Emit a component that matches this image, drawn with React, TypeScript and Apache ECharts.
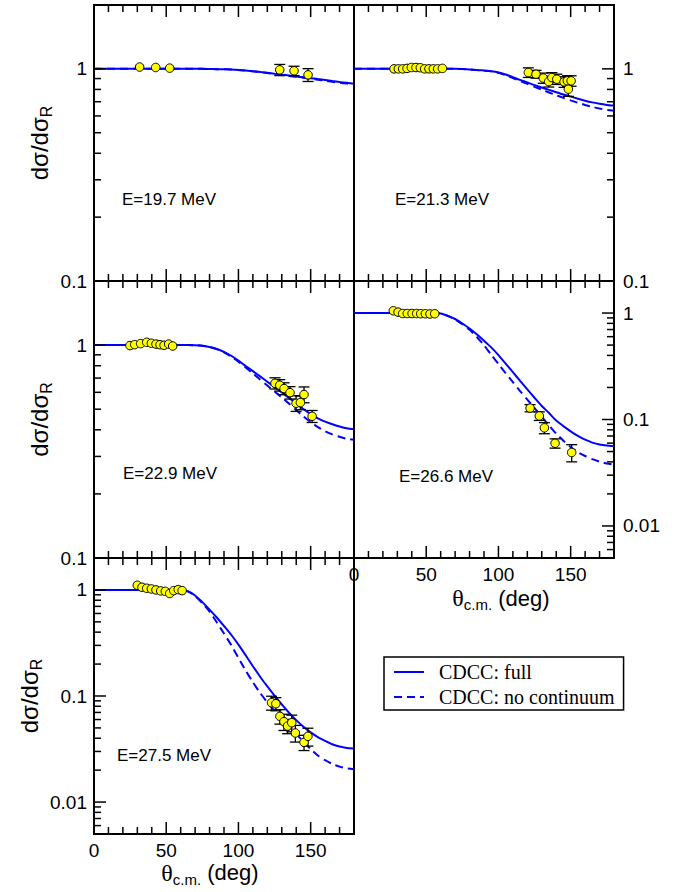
import React, { useEffect, useRef } from 'react';
import * as echarts from 'echarts';

// ---------------- DATA ----------------
const ANGLES = [0, 5, 10, 15, 20, 25, 30, 35, 40, 45, 50, 55, 60, 65, 70, 75, 80, 85, 90,
  95, 100, 105, 110, 115, 120, 125, 130, 135, 140, 145, 150, 155, 160, 165, 170, 175, 180];

const ENERGY_LABELS = ['E=19.7 MeV', 'E=21.3 MeV', 'E=22.9 MeV', 'E=26.6 MeV', 'E=27.5 MeV'];
const SERIES_NAMES = ['CDCC: full', 'CDCC: no continuum'];

// E = 19.7 MeV
const FULL_197 = [1, 1, 1, 1, 1, 1, 1, 1, 1, 1, 1, 1, 1, 1, 1, 1, 0.998, 0.997, 0.995,
  0.993, 0.989, 0.983, 0.975, 0.967, 0.958, 0.948, 0.939, 0.93, 0.921, 0.912, 0.904, 0.895, 0.886, 0.876, 0.867, 0.859, 0.851];
const NOCONT_197 = [1, 1, 1, 1, 1, 1, 1, 1, 1, 1, 1, 1, 1, 1, 1, 1, 0.998, 0.997, 0.995,
  0.993, 0.989, 0.982, 0.974, 0.965, 0.956, 0.946, 0.936, 0.926, 0.917, 0.908, 0.899, 0.889, 0.879, 0.869, 0.86, 0.852, 0.845];
const EXP_ANG_197 = [31.6, 42.7, 52.4, 128.6, 138.5, 148.2];
const EXP_VAL_197 = [1.02, 1.015, 1.008, 0.989, 0.979, 0.937];
const EXP_ERR_197 = [0, 0, 0, 0.06, 0.05, 0.065];

// E = 21.3 MeV
const FULL_213 = [1, 1, 1, 1, 1, 1, 1, 1, 1, 1, 1, 1, 1, 1, 1, 0.998, 0.993, 0.989, 0.982,
  0.975, 0.962, 0.94, 0.914, 0.887, 0.863, 0.838, 0.817, 0.796, 0.776, 0.757, 0.74, 0.723, 0.708, 0.695, 0.684, 0.676, 0.671];
const NOCONT_213 = [1, 1, 1, 1, 1, 1, 1, 1, 1, 1, 1, 1, 1, 1, 1, 0.998, 0.993, 0.988, 0.981,
  0.973, 0.958, 0.934, 0.905, 0.876, 0.85, 0.823, 0.798, 0.774, 0.751, 0.73, 0.71, 0.692, 0.676, 0.662, 0.65, 0.64, 0.634];
const EXP_ANG_213 = [27.7, 30.7, 33.7, 36.7, 39.7, 42.9, 45.9, 48.9, 51.9, 54.9, 57.9, 61.2,
  120.7, 126, 131, 134.8, 137, 140.4, 145.4, 147.7, 148.4, 150.3];
const EXP_VAL_213 = [1, 1, 1, 1.005, 1.015, 1.015, 1.012, 1, 1, 1, 1, 1.005,
  0.961, 0.944, 0.905, 0.871, 0.91, 0.894, 0.868, 0.878, 0.802, 0.878];
const EXP_ERR_213 = [0, 0, 0, 0, 0, 0, 0, 0, 0, 0, 0, 0,
  0.05, 0.04, 0.05, 0.05, 0.05, 0.05, 0.05, 0.05, 0.06, 0.05];

// E = 22.9 MeV
const FULL_229 = [1, 1, 1, 1, 1, 1, 1, 1, 1, 1, 1, 1, 1, 1, 0.999, 0.993, 0.979, 0.959, 0.929,
  0.891, 0.845, 0.798, 0.755, 0.713, 0.673, 0.635, 0.6, 0.565, 0.532, 0.501, 0.474, 0.453, 0.437, 0.425, 0.415, 0.407, 0.403];
const NOCONT_229 = [1, 1, 1, 1, 1, 1, 1, 1, 1, 1, 1, 1, 1, 1, 0.999, 0.993, 0.979, 0.957, 0.925,
  0.883, 0.836, 0.785, 0.736, 0.689, 0.646, 0.605, 0.568, 0.531, 0.495, 0.462, 0.435, 0.412, 0.394, 0.381, 0.371, 0.363, 0.359];
const EXP_ANG_229 = [24.9, 28.2, 32.3, 36.5, 39.7, 42.9, 45.7, 48.5, 51.7, 54.5,
  125.3, 128.6, 131.6, 135.7, 139.9, 142.9, 145.4, 151];
const EXP_VAL_229 = [0.995, 1.005, 1.016, 1.031, 1.02, 1.011, 1.004, 0.998, 1.011, 0.99,
  0.662, 0.648, 0.625, 0.598, 0.533, 0.537, 0.586, 0.463];
const EXP_ERR_229 = [0, 0, 0, 0, 0, 0, 0, 0, 0, 0,
  0.04, 0.04, 0.04, 0.04, 0.045, 0.04, 0.05, 0.03];

// E = 26.6 MeV
const FULL_266 = [1, 1, 1, 1, 1, 1, 1, 1, 1, 1, 1, 1, 0.991, 0.94, 0.879, 0.798, 0.716, 0.631, 0.55,
  0.476, 0.403, 0.335, 0.278, 0.231, 0.192, 0.16, 0.134, 0.115, 0.0977, 0.0867, 0.0774, 0.07, 0.0646, 0.0607, 0.0582, 0.0569, 0.0562];
const NOCONT_266 = [1, 1, 1, 1, 1, 1, 1, 1, 1, 1, 1, 1, 0.991, 0.938, 0.871, 0.785, 0.695, 0.596, 0.499,
  0.406, 0.333, 0.272, 0.224, 0.185, 0.154, 0.128, 0.106, 0.0881, 0.0736, 0.0631, 0.055, 0.0494, 0.0454, 0.0424, 0.0402, 0.0386, 0.0376];
const EXP_ANG_266 = [27.2, 30.5, 33.7, 36.9, 40.2, 43.4, 46.2, 49.4, 52.6, 55.9,
  121.9, 128.3, 131.8, 139.2, 150.7];
const EXP_VAL_266 = [1.05, 1.02, 0.99, 0.99, 0.99, 0.99, 0.985, 0.985, 0.98, 0.985,
  0.128, 0.108, 0.0835, 0.0598, 0.049];
const EXP_ERR_266 = [0, 0, 0, 0, 0, 0, 0, 0, 0, 0,
  0.01, 0.01, 0.01, 0.006, 0.009];

// E = 27.5 MeV
const FULL_275 = [1, 1, 1, 1, 1, 1, 1, 1, 1, 1, 1, 1, 0.998, 0.973, 0.887, 0.767, 0.653, 0.55, 0.457,
  0.378, 0.305, 0.242, 0.191, 0.152, 0.123, 0.1007, 0.0832, 0.0695, 0.0592, 0.0513, 0.0454, 0.041, 0.0378, 0.0351, 0.0334, 0.0324, 0.032];
const NOCONT_275 = [1, 1, 1, 1, 1, 1, 1, 1, 1, 1, 1, 1, 0.998, 0.97, 0.875, 0.75, 0.624, 0.495, 0.389,
  0.302, 0.229, 0.174, 0.135, 0.107, 0.0871, 0.0724, 0.061, 0.0515, 0.0437, 0.0372, 0.0316, 0.0275, 0.0248, 0.0229, 0.0216, 0.0208, 0.0204];
const EXP_ANG_275 = [30, 33.2, 36.5, 39.7, 42.9, 46.2, 49.4, 52.4, 55.2, 58.3, 61,
  122.9, 125.9, 128.7, 131.5, 134, 136.9, 139.4, 145.4, 148.1];
const EXP_VAL_275 = [1.107, 1.06, 1.037, 1.022, 1, 0.979, 0.97, 0.925, 0.985, 1.007, 0.985,
  0.0865, 0.0845, 0.0643, 0.0573, 0.0521, 0.056, 0.0448, 0.0366, 0.0417];
const EXP_ERR_275 = [0, 0, 0, 0, 0, 0, 0, 0, 0, 0, 0,
  0.013, 0.012, 0.01, 0.01, 0.008, 0.01, 0.008, 0.006, 0.008];

// axis ticks / ranges
const X_RANGE = [0, 180];
const X_LABEL_VALUES = [0, 50, 100, 150];
const X_MAJOR_TICKS = [50, 100, 150];
const X_MINOR_TICKS = [10, 20, 30, 40, 60, 70, 80, 90, 110, 120, 130, 140, 160, 170];
const Y_DECADES = [0.001, 0.01, 0.1, 1, 10];
const Y_MINOR_FACTORS = [2, 3, 4, 5, 6, 7, 8, 9];
const Y_RANGE_NARROW = [0.1, 2];
const Y_RANGE_WIDE = [0.005, 2];

// ---------------- LAYOUT ----------------
const W = 684;
const H = 892;
const GRID_W = 260;
const SANS = 'Liberation Sans';
const SERIF = 'Liberation Serif';
const BLUE = '#0000ff';

const PANELS = [
  { full: FULL_197, noCont: NOCONT_197, ang: EXP_ANG_197, val: EXP_VAL_197, err: EXP_ERR_197, label: ENERGY_LABELS[0],
    left: 94, top: 5, height: 276, yr: Y_RANGE_NARROW, side: 'left', xLab: false, yName: true, nameGap: 40, lx: 28, ly: 194, xPad: 0, xGap: 27 },
  { full: FULL_213, noCont: NOCONT_213, ang: EXP_ANG_213, val: EXP_VAL_213, err: EXP_ERR_213, label: ENERGY_LABELS[1],
    left: 354, top: 5, height: 276, yr: Y_RANGE_NARROW, side: 'right', xLab: false, yName: false, nameGap: 0, lx: 41, ly: 194, xPad: 0, xGap: 27 },
  { full: FULL_229, noCont: NOCONT_229, ang: EXP_ANG_229, val: EXP_VAL_229, err: EXP_ERR_229, label: ENERGY_LABELS[2],
    left: 94, top: 281, height: 277, yr: Y_RANGE_NARROW, side: 'left', xLab: false, yName: true, nameGap: 40, lx: 29, ly: 192, xPad: 0, xGap: 27 },
  { full: FULL_266, noCont: NOCONT_266, ang: EXP_ANG_266, val: EXP_VAL_266, err: EXP_ERR_266, label: ENERGY_LABELS[3],
    left: 354, top: 281, height: 277, yr: Y_RANGE_WIDE, side: 'right', xLab: true, yName: false, nameGap: 0, lx: 45, ly: 195, xPad: [0, 0, 0, 34], xGap: 26 },
  { full: FULL_275, noCont: NOCONT_275, ang: EXP_ANG_275, val: EXP_VAL_275, err: EXP_ERR_275, label: ENERGY_LABELS[4],
    left: 94, top: 558, height: 276, yr: Y_RANGE_WIDE, side: 'left', xLab: true, yName: true, nameGap: 50, lx: 23, ly: 197, xPad: [0, 28, 0, 0], xGap: 23 },
];

const decadeLabel = (v: number) => {
  const l = Math.log10(v);
  const r = Math.round(l);
  if (Math.abs(l - r) > 1e-6) return '';
  return r >= 0 ? String(Math.pow(10, r)) : Math.pow(10, r).toFixed(-r);
};

const TICK_STYLE = { stroke: '#000', lineWidth: 1.5 };

function xTickSeries(i: number, values: number[], yr: number[], len: number) {
  return {
    type: 'custom', xAxisIndex: i, yAxisIndex: i, z: 6, silent: true,
    data: values.map((v) => [v, yr[0], yr[1]]),
    encode: { x: 0, y: [1, 2] },
    renderItem: (_params: any, api: any) => {
      const x = api.value(0);
      const b = api.coord([x, api.value(1)]);
      const t = api.coord([x, api.value(2)]);
      return {
        type: 'group',
        children: [
          { type: 'line', shape: { x1: b[0], y1: b[1], x2: b[0], y2: b[1] - len }, style: TICK_STYLE },
          { type: 'line', shape: { x1: t[0], y1: t[1], x2: t[0], y2: t[1] + len }, style: TICK_STYLE },
        ],
      };
    },
  };
}

function yTickSeries(i: number, values: number[], side: string, len: number) {
  const edge = side === 'left' ? X_RANGE[0] : X_RANGE[1];
  const dir = side === 'left' ? 1 : -1;
  return {
    type: 'custom', xAxisIndex: i, yAxisIndex: i, z: 6, silent: true,
    data: values.map((v) => [edge, v, v]),
    encode: { x: 0, y: [1, 2] },
    renderItem: (_params: any, api: any) => {
      const p = api.coord([api.value(0), api.value(1)]);
      return { type: 'line', shape: { x1: p[0], y1: p[1], x2: p[0] + dir * len, y2: p[1] }, style: TICK_STYLE };
    },
  };
}

function buildOption() {
  const grid: any[] = [];
  const xAxis: any[] = [];
  const yAxis: any[] = [];
  const series: any[] = [];
  const graphic: any[] = [];

  PANELS.forEach((p, i) => {
    grid.push({
      left: p.left, top: p.top, width: GRID_W, height: p.height,
      show: true, borderColor: '#000', borderWidth: 2, backgroundColor: 'transparent',
      containLabel: false, outerBoundsMode: 'none',
    });
    xAxis.push({
      gridIndex: i, type: 'value', min: X_RANGE[0], max: X_RANGE[1], interval: 50,
      axisLine: { show: false }, axisTick: { show: false }, splitLine: { show: false },
      axisLabel: {
        show: p.xLab, margin: 7, fontSize: 19, fontFamily: SANS, color: '#000',
        formatter: (v: number) => (X_LABEL_VALUES.indexOf(v) >= 0 ? String(v) : ''),
      },
      name: p.xLab ? '{t|θ}{s|c.m.}{u| (deg)}' : '',
      nameLocation: 'middle', nameGap: p.xGap,
      nameTextStyle: {
        padding: p.xPad,
        rich: {
          t: { fontFamily: SERIF, fontSize: 24, color: '#000' },
          s: { fontFamily: SANS, fontSize: 15, color: '#000', padding: [13, 0, 0, 0] },
          u: { fontFamily: SANS, fontSize: 22, color: '#000' },
        },
      },
    });
    yAxis.push({
      gridIndex: i, type: 'log', logBase: 10, min: p.yr[0], max: p.yr[1], position: p.side,
      axisLine: { show: false }, axisTick: { show: false }, splitLine: { show: false },
      axisLabel: { margin: p.side === 'left' ? 7 : 9, fontSize: 19, fontFamily: SANS, color: '#000', formatter: decadeLabel },
      name: p.yName ? '{a|dσ/dσ}{b|R}' : '',
      nameLocation: 'middle', nameGap: p.nameGap,
      nameTextStyle: {
        rich: {
          a: { fontFamily: SANS, fontSize: 24, color: '#000' },
          b: { fontFamily: SANS, fontSize: 16, color: '#000', padding: [13, 0, 0, 0] },
        },
      },
    });

    series.push({
      name: SERIES_NAMES[0], type: 'line', xAxisIndex: i, yAxisIndex: i,
      data: ANGLES.map((a, k) => [a, p.full[k]]),
      symbol: 'none', smooth: 0.25, z: 2, silent: true,
      lineStyle: { color: BLUE, width: 2, type: 'solid' }, itemStyle: { color: BLUE },
    });
    series.push({
      name: SERIES_NAMES[1], type: 'line', xAxisIndex: i, yAxisIndex: i,
      data: ANGLES.map((a, k) => [a, p.noCont[k]]),
      symbol: 'none', smooth: 0.25, z: 2, silent: true,
      lineStyle: { color: BLUE, width: 2, type: [8, 5] }, itemStyle: { color: BLUE },
    });

    const errData = p.ang
      .map((a, k) => [a, p.val[k] - p.err[k], p.val[k] + p.err[k], p.err[k]])
      .filter((d) => d[3] > 0);
    series.push({
      type: 'custom', xAxisIndex: i, yAxisIndex: i, data: errData, z: 3, silent: true,
      encode: { x: 0, y: [1, 2] },
      renderItem: (_params: any, api: any) => {
        const x = api.value(0);
        const top = api.coord([x, api.value(2)]);
        const bot = api.coord([x, api.value(1)]);
        const h = 5.5;
        const st = { stroke: '#000', lineWidth: 1.3 };
        return {
          type: 'group',
          children: [
            { type: 'line', shape: { x1: top[0], y1: top[1], x2: bot[0], y2: bot[1] }, style: st },
            { type: 'line', shape: { x1: top[0] - h, y1: top[1], x2: top[0] + h, y2: top[1] }, style: st },
            { type: 'line', shape: { x1: bot[0] - h, y1: bot[1], x2: bot[0] + h, y2: bot[1] }, style: st },
          ],
        };
      },
    });

    series.push({
      type: 'scatter', xAxisIndex: i, yAxisIndex: i, z: 4, silent: true,
      data: p.ang.map((a, k) => [a, p.val[k]]),
      symbol: 'circle', symbolSize: 8.5,
      itemStyle: { color: '#ffff00', borderColor: '#000', borderWidth: 1, opacity: 1 },
    });

    // tick marks, positioned through the axis scales
    const yMajor = Y_DECADES.filter((d) => d > p.yr[0] * 1.0001 && d < p.yr[1] * 0.9999);
    const yMinor: number[] = [];
    Y_DECADES.forEach((d) => Y_MINOR_FACTORS.forEach((f) => {
      const v = d * f;
      if (v > p.yr[0] * 1.0001 && v < p.yr[1] * 0.9999) yMinor.push(v);
    }));
    series.push(xTickSeries(i, X_MAJOR_TICKS, p.yr, 12));
    series.push(xTickSeries(i, X_MINOR_TICKS, p.yr, 7));
    series.push(yTickSeries(i, yMajor, p.side, 12));
    series.push(yTickSeries(i, yMinor, p.side, 7));

    graphic.push({
      type: 'text', x: p.left + p.lx, y: p.top + p.ly, z: 10,
      style: { text: p.label, fontFamily: SANS, fontSize: 17, fill: '#000', verticalAlign: 'middle', align: 'left' },
    });
  });

  return {
    animation: false,
    backgroundColor: '#fff',
    grid, xAxis, yAxis, series, graphic,
    legend: {
      data: SERIES_NAMES,
      orient: 'vertical', left: 384, top: 657,
      itemWidth: 30, itemHeight: 20, itemGap: 5,
      padding: [5, 9, 3, 9],
      borderColor: '#000', borderWidth: 1.5, backgroundColor: '#fff',
      selectedMode: false,
      itemStyle: { opacity: 0 },
      lineStyle: { width: 2, opacity: 1 },
      textStyle: { fontFamily: SERIF, fontSize: 20, color: '#000', padding: [0, 0, 0, 10] },
    },
  };
}

export default function App() {
  const ref = useRef<HTMLDivElement>(null);
  useEffect(() => {
    document.body.style.margin = '0';
    const chart = echarts.init(ref.current as HTMLDivElement, undefined, { renderer: 'svg' });
    chart.setOption(buildOption() as any);
    return () => chart.dispose();
  }, []);
  return <div ref={ref} style={{ position: 'absolute', left: 0, top: 0, width: W, height: H }} />;
}
